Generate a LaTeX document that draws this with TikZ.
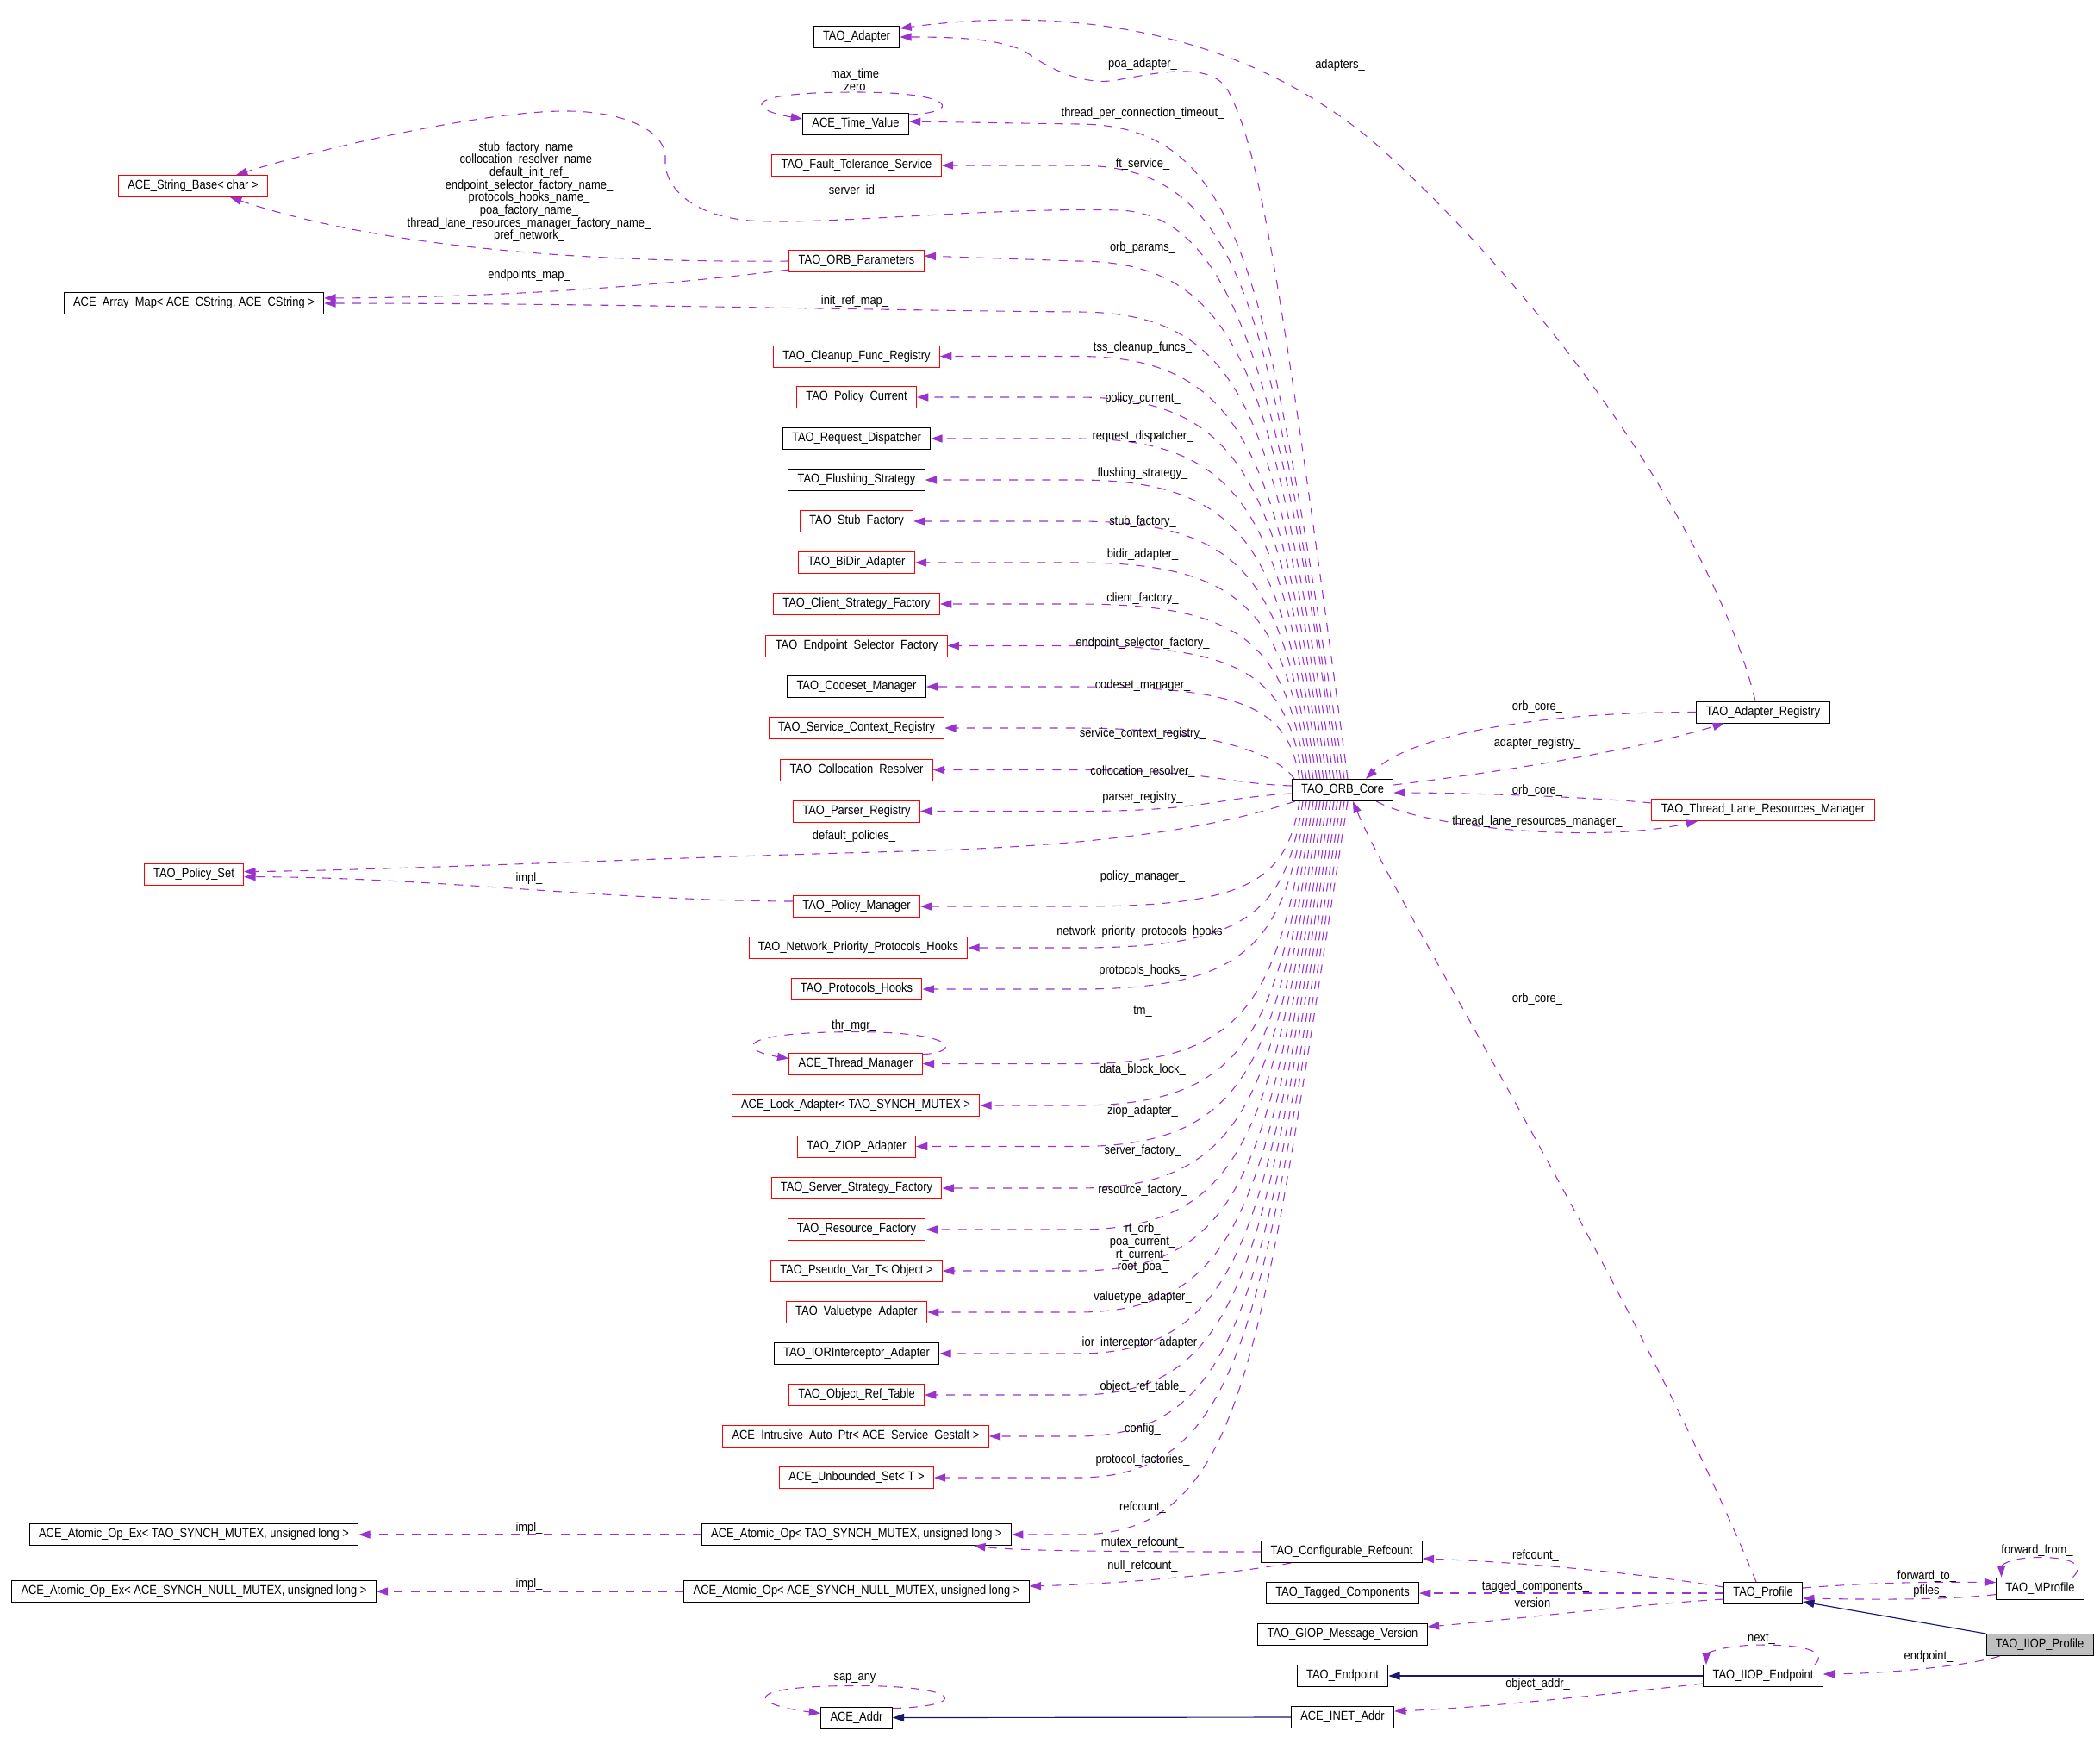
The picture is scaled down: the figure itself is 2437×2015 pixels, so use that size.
\documentclass[tikz,border=0pt]{standalone}
\usepackage{fontspec}
\setmainfont{Liberation Sans}[FakeStretch=0.87]
\usetikzlibrary{arrows.meta,calc}
\definecolor{depcol}{HTML}{9A32CD}
\definecolor{inhcol}{HTML}{191970}
\definecolor{mainfill}{HTML}{BFBFBF}
\tikzset{
    cls/.style={draw=black, line width=0.6pt, minimum height=15pt, inner xsep=6.5pt, inner ysep=0pt},
    redcls/.style={cls, draw=red},
    maincls/.style={cls, fill=mainfill},
    lbl/.style={inner sep=0pt, align=center},
    dep/.style={draw=depcol, line width=0.65pt, dash pattern=on 6pt off 5.5pt, -{Triangle[length=8pt,width=5.5pt]}},
    inh/.style={draw=inhcol, line width=0.7pt, -{Triangle[length=8pt,width=5.5pt]}}
}
\begin{document}
\begin{tikzpicture}[x=0.6pt, y=-0.6pt, font=\fontsize{8.9}{8.8}\selectfont]
    \useasboundingbox (0,0) rectangle (2437,2015);
    \coordinate (bend) at (1250,0);

    \node[cls] (adapter) at (994,43) {TAO\_Adapter};
    \node[cls] (timevalue) at (993,144) {ACE\_Time\_Value};
    \node[redcls] (ftservice) at (994,192) {TAO\_Fault\_Tolerance\_Service};
    \node[redcls] (orbparams) at (994,303) {TAO\_ORB\_Parameters};
    \node[redcls] (cleanup) at (994,413.5) {TAO\_Cleanup\_Func\_Registry};
    \node[redcls] (policycur) at (994,461) {TAO\_Policy\_Current};
    \node[cls] (reqdisp) at (994,509) {TAO\_Request\_Dispatcher};
    \node[cls] (flushing) at (994,557) {TAO\_Flushing\_Strategy};
    \node[redcls] (stubfac) at (994,605) {TAO\_Stub\_Factory};
    \node[redcls] (bidir) at (994,653) {TAO\_BiDir\_Adapter};
    \node[redcls] (clientfac) at (994,701) {TAO\_Client\_Strategy\_Factory};
    \node[redcls] (epselect) at (994,749.5) {TAO\_Endpoint\_Selector\_Factory};
    \node[cls] (codeset) at (994,797) {TAO\_Codeset\_Manager};
    \node[redcls] (svcctx) at (994,845) {TAO\_Service\_Context\_Registry};
    \node[redcls] (colloc) at (994,893.5) {TAO\_Collocation\_Resolver};
    \node[redcls] (parser) at (994,941.5) {TAO\_Parser\_Registry};
    \node[redcls] (policymgr) at (994,1052) {TAO\_Policy\_Manager};
    \node[redcls] (netprio) at (996,1100) {TAO\_Network\_Priority\_Protocols\_Hooks};
    \node[redcls] (prothooks) at (994,1148) {TAO\_Protocols\_Hooks};
    \node[redcls] (thrmgr) at (993,1234.6) {ACE\_Thread\_Manager};
    \node[redcls] (lockadapter) at (993,1283) {ACE\_Lock\_Adapter< TAO\_SYNCH\_MUTEX >};
    \node[redcls] (ziop) at (994,1330.5) {TAO\_ZIOP\_Adapter};
    \node[redcls] (serverfac) at (994,1379) {TAO\_Server\_Strategy\_Factory};
    \node[redcls] (resfac) at (994,1427) {TAO\_Resource\_Factory};
    \node[redcls] (pseudovar) at (994,1475) {TAO\_Pseudo\_Var\_T< Object >};
    \node[redcls] (valuetype) at (994,1523) {TAO\_Valuetype\_Adapter};
    \node[cls] (iorint) at (994,1571) {TAO\_IORInterceptor\_Adapter};
    \node[redcls] (objreftable) at (994,1619) {TAO\_Object\_Ref\_Table};
    \node[redcls] (intrusive) at (993,1667) {ACE\_Intrusive\_Auto\_Ptr< ACE\_Service\_Gestalt >};
    \node[redcls] (unbounded) at (994,1715) {ACE\_Unbounded\_Set< T >};
    \node[cls] (atomicop) at (994,1781) {ACE\_Atomic\_Op< TAO\_SYNCH\_MUTEX, unsigned long >};
    \node[cls] (atomicnull) at (994,1847) {ACE\_Atomic\_Op< ACE\_SYNCH\_NULL\_MUTEX, unsigned long >};
    \node[cls] (aceaddr) at (994,1993.5) {ACE\_Addr};

    \node[redcls] (stringbase) at (224,216) {ACE\_String\_Base< char >};
    \node[cls] (arraymap) at (225,352) {ACE\_Array\_Map< ACE\_CString, ACE\_CString >};
    \node[redcls] (policyset) at (225,1014.6) {TAO\_Policy\_Set};
    \node[cls] (atomicex) at (225,1781) {ACE\_Atomic\_Op\_Ex< TAO\_SYNCH\_MUTEX, unsigned long >};
    \node[cls] (atomicexnull) at (225,1847) {ACE\_Atomic\_Op\_Ex< ACE\_SYNCH\_NULL\_MUTEX, unsigned long >};

    \node[cls] (orbcore) at (1558,917) {TAO\_ORB\_Core};
    \node[cls] (confrefcount) at (1557,1801) {TAO\_Configurable\_Refcount};
    \node[cls] (tagged) at (1558,1849) {TAO\_Tagged\_Components};
    \node[cls] (giopver) at (1558,1897) {TAO\_GIOP\_Message\_Version};
    \node[cls] (endpoint) at (1558,1945) {TAO\_Endpoint};
    \node[cls] (inetaddr) at (1558,1993) {ACE\_INET\_Addr};

    \node[cls] (adapterreg) at (2046,826.5) {TAO\_Adapter\_Registry};
    \node[redcls] (tlrm) at (2046,940) {TAO\_Thread\_Lane\_Resources\_Manager};
    \node[cls] (profile) at (2046,1849) {TAO\_Profile};
    \node[cls] (iiopep) at (2046,1945) {TAO\_IIOP\_Endpoint};
    \node[cls] (mprofile) at (2367.5,1843.5) {TAO\_MProfile};
    \node[maincls] (iiopprofile) at (2367,1909) {TAO\_IIOP\_Profile};

    \draw[dep] ($(orbcore.north)+(6,0)$) .. controls +(-80,-600) and (1460,170) .. (1425,105) .. controls (1405,70) and (1340,85) .. (1296,93) .. controls (1255,100) and (1215,78) .. (1190,60) .. controls (1160,45) and (1110,43) .. (adapter.east);
    \draw[dep] ($(orbcore.north)+(2,0)$) .. controls +(-91,-570) and +(200,0) .. (timevalue.east -| bend) -- ($(timevalue.east)+(0,-3)$);
    \draw[dep] ($(orbcore.north)+(-2,0)$) .. controls +(-85,-534) and +(200,0) .. (ftservice.east -| bend) -- (ftservice.east);
    \draw[dep] ($(orbcore.north)+(-6,0)$) .. controls +(-70,-500) and (1420,250) .. (1300,244) .. controls (1150,240) and (950,262) .. (870,256) .. controls (800,250) and (770,215) .. (772,185) .. controls (774,150) and (720,128) .. (652,129) .. controls (560,130) and (380,170) .. ($(stringbase.north)+(50,0)$);
    \draw[dep] ($(orbcore.north)+(-10,0)$) .. controls +(-72,-451) and +(200,0) .. (orbparams.east -| bend) -- ($(orbparams.east)+(0,-6)$);
    \draw[dep] ($(orbcore.north)+(-14,0)$) .. controls +(-66,-414) and +(200,0) .. (1250,362) .. controls (1000,360) and (700,352) .. (arraymap.east);
    \draw[dep] ($(orbcore.north)+(-18,0)$) .. controls +(-59,-368) and +(200,0) .. (cleanup.east -| bend) -- (cleanup.east);
    \draw[dep] ($(orbcore.north)+(-22,0)$) .. controls +(-53,-332) and +(200,0) .. (policycur.east -| bend) -- (policycur.east);
    \draw[dep] ($(orbcore.north)+(-26,0)$) .. controls +(-47,-296) and +(200,0) .. (reqdisp.east -| bend) -- (reqdisp.east);
    \draw[dep] ($(orbcore.north)+(-30,0)$) .. controls +(-42,-260) and +(200,0) .. (flushing.east -| bend) -- (flushing.east);
    \draw[dep] ($(orbcore.north)+(-34,0)$) .. controls +(-36,-224) and +(200,0) .. (stubfac.east -| bend) -- (stubfac.east);
    \draw[dep] ($(orbcore.north)+(-38,0)$) .. controls +(-30,-188) and +(200,0) .. (bidir.east -| bend) -- (bidir.east);
    \draw[dep] ($(orbcore.north)+(-42,0)$) .. controls +(-24,-152) and +(200,0) .. (clientfac.east -| bend) -- (clientfac.east);
    \draw[dep] ($(orbcore.north)+(-46,0)$) .. controls +(-19,-116) and +(200,0) .. (epselect.east -| bend) -- (epselect.east);
    \draw[dep] ($(orbcore.north)+(-50,0)$) .. controls +(-13,-80) and +(200,0) .. (codeset.east -| bend) -- (codeset.east);
    \draw[dep] ($(orbcore.north)+(-56,0)$) .. controls +(-20,-30) and +(150,0) .. (svcctx.east -| bend) -- (svcctx.east);
    \draw[dep] ($(orbcore.west)+(0,-5)$) .. controls +(-80,-3) and +(150,0) .. (colloc.east -| bend) -- (colloc.east);
    \draw[dep] ($(orbcore.west)+(0,4)$) .. controls +(-90,5) and +(150,0) .. (parser.east -| bend) -- (parser.east);
    \draw[dep] ($(orbcore.south west)+(4,0)$) .. controls (1400,965) and (1250,983) .. (1050,988) .. controls (750,996) and (450,1010) .. ($(policyset.east)+(0,-3)$);
    \draw[dep] ($(orbcore.south)+(-50,0)$) .. controls +(-15,92) and +(200,0) .. (policymgr.east -| bend) -- (policymgr.east);
    \draw[dep] ($(orbcore.south)+(-46,0)$) .. controls +(-20,128) and +(200,0) .. (netprio.east -| bend) -- (netprio.east);
    \draw[dep] ($(orbcore.south)+(-42,0)$) .. controls +(-26,164) and +(200,0) .. (prothooks.east -| bend) -- (prothooks.east);
    \draw[dep] ($(orbcore.south)+(-38,0)$) .. controls +(-37,229) and +(200,0) .. (thrmgr.east -| bend) -- (thrmgr.east);
    \draw[dep] ($(orbcore.south)+(-34,0)$) .. controls +(-42,265) and +(200,0) .. (lockadapter.east -| bend) -- (lockadapter.east);
    \draw[dep] ($(orbcore.south)+(-30,0)$) .. controls +(-48,300) and +(200,0) .. (ziop.east -| bend) -- (ziop.east);
    \draw[dep] ($(orbcore.south)+(-26,0)$) .. controls +(-54,337) and +(200,0) .. (serverfac.east -| bend) -- (serverfac.east);
    \draw[dep] ($(orbcore.south)+(-22,0)$) .. controls +(-60,373) and +(200,0) .. (resfac.east -| bend) -- (resfac.east);
    \draw[dep] ($(orbcore.south)+(-18,0)$) .. controls +(-65,409) and +(200,0) .. (pseudovar.east -| bend) -- (pseudovar.east);
    \draw[dep] ($(orbcore.south)+(-14,0)$) .. controls +(-71,445) and +(200,0) .. (valuetype.east -| bend) -- (valuetype.east);
    \draw[dep] ($(orbcore.south)+(-10,0)$) .. controls +(-77,481) and +(200,0) .. (iorint.east -| bend) -- (iorint.east);
    \draw[dep] ($(orbcore.south)+(-6,0)$) .. controls +(-83,517) and +(200,0) .. (objreftable.east -| bend) -- (objreftable.east);
    \draw[dep] ($(orbcore.south)+(-2,0)$) .. controls +(-88,553) and +(200,0) .. (intrusive.east -| bend) -- (intrusive.east);
    \draw[dep] ($(orbcore.south)+(2,0)$) .. controls +(-94,589) and +(200,0) .. (unbounded.east -| bend) -- (unbounded.east);
    \draw[dep] ($(orbcore.south)+(6,0)$) .. controls +(-102,638) and +(200,0) .. (atomicop.east -| bend) -- (atomicop.east);

    \draw[dep] (orbparams.west) .. controls (700,305) and (450,290) .. ($(stringbase.south)+(43,0)$);
    \draw[dep] ($(orbparams.west)+(0,10)$) .. controls (780,330) and (600,345) .. ($(arraymap.east)+(0,-6)$);
    \draw[dep] ($(policymgr.west)+(0,-6)$) .. controls (700,1045) and (500,1018) .. ($(policyset.east)+(0,3)$);
    \draw[dep] (atomicop.west) -- (atomicex.east);
    \draw[dep] (atomicnull.west) -- (atomicexnull.east);
    \draw[dep] (confrefcount.west) .. controls (1300,1801) and (1180,1800) .. ($(atomicop.south east)+(-44,0)$);
    \draw[dep] ($(confrefcount.south west)+(35,0)$) .. controls (1420,1828) and (1300,1838) .. ($(atomicnull.east)+(0,-6)$);

    \draw[dep] ($(timevalue.north east)+(0,2)$) .. controls +(60,-2) and +(120,0) .. ($(timevalue.north)+(0,-24)$) .. controls +(-140,0) and +(-60,-10) .. ($(timevalue.west)+(0,-6)$);
    \draw[dep] ($(thrmgr.north east)+(0,2)$) .. controls +(45,-2) and +(120,0) .. ($(thrmgr.north)+(0,-24)$) .. controls +(-140,0) and +(-60,-10) .. ($(thrmgr.west)+(0,-6)$);
    \draw[dep] ($(aceaddr.north east)+(0,2)$) .. controls +(90,-2) and +(125,0) .. ($(aceaddr.north)+(0,-24)$) .. controls +(-140,0) and +(-80,-10) .. ($(aceaddr.west)+(0,-5)$);

    \draw[dep] ($(adapterreg.north)+(-9,0)$) .. controls (1990,620) and (1800,350) .. (1600,170) .. controls (1450,40) and (1250,5) .. ($(adapter.east)+(0,-10)$);
    \draw[dep] ($(orbcore.east)+(0,-6)$) .. controls (1750,895) and (1900,870) .. ($(adapterreg.south)+(-45,0)$);
    \draw[dep] (adapterreg.west) .. controls (1800,826) and (1640,850) .. ($(orbcore.north)+(27,0)$);
    \draw[dep] ($(tlrm.west)+(0,-8)$) .. controls (1850,925) and (1700,920) .. ($(orbcore.east)+(0,3)$);
    \draw[dep] ($(orbcore.south east)+(-20,0)$) .. controls (1650,960) and (1850,980) .. ($(tlrm.south)+(-76,0)$);
    \draw[dep] ($(profile.north)+(-8,0)$) .. controls (1900,1500) and (1620,1050) .. ($(orbcore.south)+(12,0)$);

    \draw[dep] ($(profile.west)+(0,-7)$) .. controls (1900,1825) and (1750,1812) .. ($(confrefcount.east)+(0,8)$);
    \draw[dep] (profile.west) -- (tagged.east);
    \draw[dep] ($(profile.west)+(0,7)$) .. controls (1900,1862) and (1750,1880) .. ($(giopver.east)+(0,-9)$);
    \draw[dep] ($(profile.east)+(0,-6)$) .. controls (2180,1836) and (2250,1836) .. ($(mprofile.west)+(0,-7)$);
    \draw[dep] ($(mprofile.west)+(0,7)$) .. controls (2250,1858) and (2150,1856) .. ($(profile.east)+(0,6)$);
    \draw[dep] ($(mprofile.north)+(38,0)$) .. controls +(15,-15) and +(35,0) .. ($(mprofile.north)+(0,-23)$) .. controls +(-40,0) and +(0,-12) .. ($(mprofile.north)+(-45,0)$);
    \draw[inh] (iiopprofile.north west) -- ($(profile.south east)+(0,-3)$);
    \draw[dep] ($(iiopprofile.south west)+(16,0)$) .. controls (2290,1932) and (2200,1942) .. ($(iiopep.east)+(0,-2)$);
    \draw[dep] ($(iiopep.north)+(60,0)$) .. controls +(15,-15) and +(50,0) .. ($(iiopep.north)+(0,-23)$) .. controls +(-50,0) and +(0,-12) .. ($(iiopep.north)+(-66,0)$);
    \draw[inh] (iiopep.west) -- (endpoint.east);
    \draw[dep] ($(iiopep.west)+(0,9)$) .. controls (1850,1968) and (1720,1982) .. ($(inetaddr.east)+(0,-7)$);
    \draw[inh] (inetaddr.west) -- (aceaddr.east);

    \node[lbl] (l-poa) at (1326,75) {poa\_adapter\_};
    \node[lbl] (l-tpc) at (1326,131.7) {thread\_per\_connection\_timeout\_};
    \node[lbl] (l-ft) at (1326,190.6) {ft\_service\_};
    \node[lbl] (l-sid) at (992,222) {server\_id\_};
    \node[lbl] (l-op) at (1326,287.5) {orb\_params\_};
    \node[lbl] (l-irm) at (992,349.5) {init\_ref\_map\_};
    \node[lbl] (l-tss) at (1326,403.6) {tss\_cleanup\_funcs\_};
    \node[lbl] (l-pc) at (1326,462.5) {policy\_current\_};
    \node[lbl] (l-rd) at (1326,506.7) {request\_dispatcher\_};
    \node[lbl] (l-fs) at (1326,550) {flushing\_strategy\_};
    \node[lbl] (l-sf) at (1326,605.8) {stub\_factory\_};
    \node[lbl] (l-ba) at (1326,643.8) {bidir\_adapter\_};
    \node[lbl] (l-cf) at (1326,694.6) {client\_factory\_};
    \node[lbl] (l-esf) at (1326,747) {endpoint\_selector\_factory\_};
    \node[lbl] (l-cm) at (1326,796) {codeset\_manager\_};
    \node[lbl] (l-scr) at (1326,852) {service\_context\_registry\_};
    \node[lbl] (l-cr) at (1326,895.5) {collocation\_resolver\_};
    \node[lbl] (l-pr) at (1326,926) {parser\_registry\_};
    \node[lbl] (l-dp) at (991,971) {default\_policies\_};
    \node[lbl] (l-pm) at (1326,1018) {policy\_manager\_};
    \node[lbl] (l-npph) at (1326,1081.7) {network\_priority\_protocols\_hooks\_};
    \node[lbl] (l-ph) at (1326,1127) {protocols\_hooks\_};
    \node[lbl] (l-tm) at (1326,1174.6) {tm\_};
    \node[lbl] (l-dbl) at (1326,1241.5) {data\_block\_lock\_};
    \node[lbl] (l-za) at (1326,1290) {ziop\_adapter\_};
    \node[lbl] (l-svf) at (1326,1335.7) {server\_factory\_};
    \node[lbl] (l-rf) at (1326,1381.7) {resource\_factory\_};
    \node[lbl] (l-rt) at (1326,1448.9) {rt\_orb\_\\poa\_current\_\\rt\_current\_\\root\_poa\_};
    \node[lbl] (l-va) at (1326,1506) {valuetype\_adapter\_};
    \node[lbl] (l-ioa) at (1326,1559) {ior\_interceptor\_adapter\_};
    \node[lbl] (l-ort) at (1326,1610) {object\_ref\_table\_};
    \node[lbl] (l-cfg) at (1326,1659) {config\_};
    \node[lbl] (l-pf) at (1326,1694.5) {protocol\_factories\_};
    \node[lbl] (l-rc) at (1326,1749.4) {refcount\_};
    \node[lbl] (l-mrc) at (1326,1791) {mutex\_refcount\_};
    \node[lbl] (l-nrc) at (1326,1818) {null\_refcount\_};
    \node[lbl] (l-names) at (614,222.8) {stub\_factory\_name\_\\collocation\_resolver\_name\_\\default\_init\_ref\_\\endpoint\_selector\_factory\_name\_\\protocols\_hooks\_name\_\\poa\_factory\_name\_\\thread\_lane\_resources\_manager\_factory\_name\_\\pref\_network\_};
    \node[lbl] (l-em) at (614,320) {endpoints\_map\_};
    \node[lbl] (l-impl) at (614,1019.6) {impl\_};
    \node[lbl] (l-impl2) at (614,1773.7) {impl\_};
    \node[lbl] (l-impl3) at (614,1839) {impl\_};
    \node[lbl] (l-tv) at (992,93) {max\_time\\zero};
    \node[lbl] (l-thr) at (991,1191) {thr\_mgr\_};
    \node[lbl] (l-sap) at (992,1948) {sap\_any};
    \node[lbl] (l-ads) at (1555,76) {adapters\_};
    \node[lbl] (l-oc1) at (1784,821) {orb\_core\_};
    \node[lbl] (l-ar) at (1784,863) {adapter\_registry\_};
    \node[lbl] (l-oc2) at (1784,918) {orb\_core\_};
    \node[lbl] (l-tlrm) at (1784,953.6) {thread\_lane\_resources\_manager\_};
    \node[lbl] (l-oc3) at (1784,1160) {orb\_core\_};
    \node[lbl] (l-prc) at (1782,1806) {refcount\_};
    \node[lbl] (l-tc) at (1782,1842) {tagged\_components\_};
    \node[lbl] (l-ver) at (1782,1861.6) {version\_};
    \node[lbl] (l-ft2) at (2236,1830) {forward\_to\_};
    \node[lbl] (l-pfl) at (2239,1847) {pfiles\_};
    \node[lbl] (l-ff) at (2364,1800) {forward\_from\_};
    \node[lbl] (l-next) at (2044,1902) {next\_};
    \node[lbl] (l-ep) at (2238,1922.7) {endpoint\_};
    \node[lbl] (l-oa) at (1784.6,1955) {object\_addr\_};
\end{tikzpicture}
\end{document}
